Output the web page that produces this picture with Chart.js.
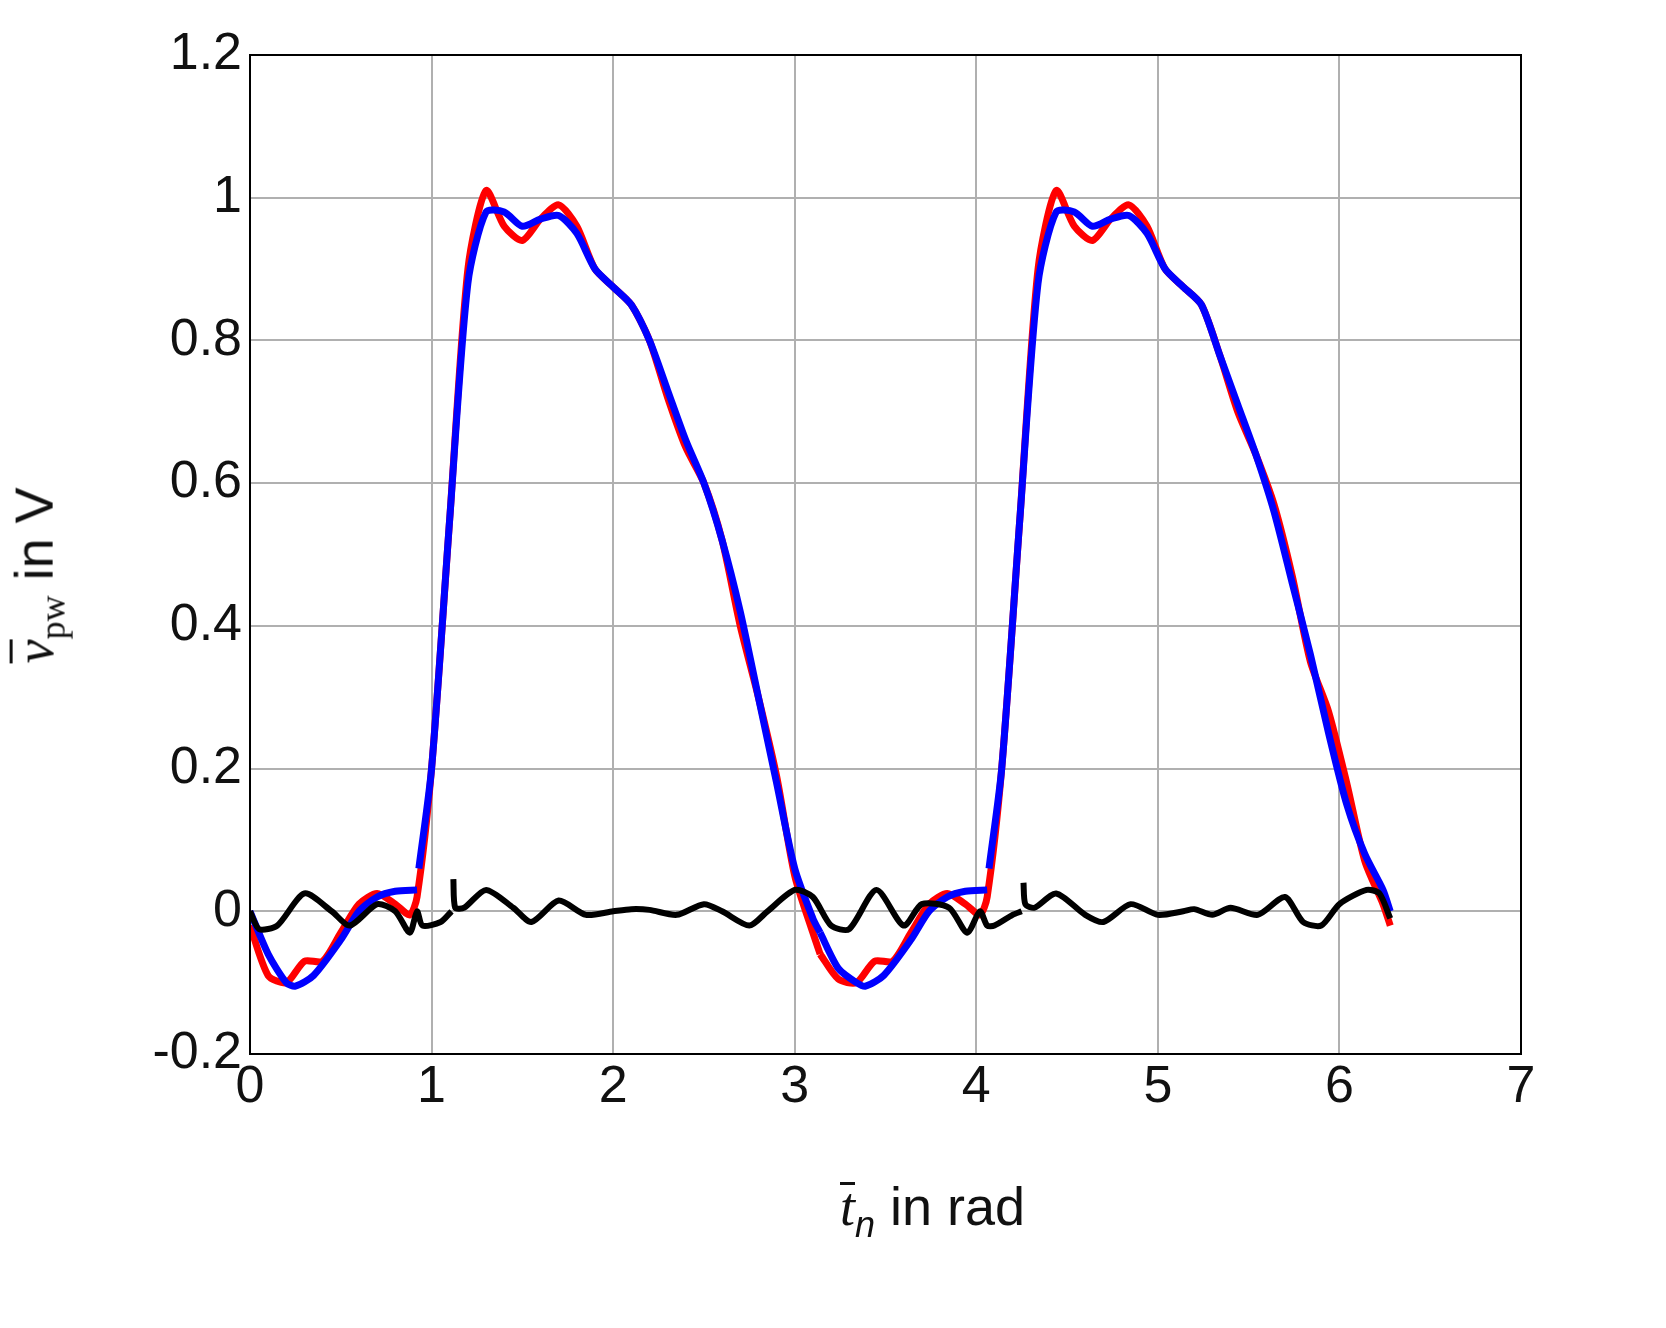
<!DOCTYPE html>
<html><head><meta charset="utf-8">
<script src="https://cdn.jsdelivr.net/npm/chart.js@4/dist/chart.umd.min.js"></script>
<style>
body{margin:0;background:#fff;font-family:"Liberation Sans",Arial,sans-serif}
#wrap{position:relative;width:1666px;height:1328px}
.lab{position:absolute;font-size:54px;color:#111;white-space:nowrap}
.ov{display:inline-block;border-top:3px solid #111;line-height:44px;font-family:"Liberation Serif",serif;font-style:italic}
</style></head><body>
<div id="wrap"><canvas id="chart1" width="1666" height="1328"></canvas>
<div class="lab" style="left:840px;top:1175px"><span class="ov">t</span><sub style="font-size:36px;font-style:italic">n</sub> in rad</div>
<div class="lab" style="left:-50px;top:540px;transform:rotate(-90deg);transform-origin:center"><span class="ov">v</span><sub style="font-size:36px;font-family:'Liberation Serif',serif">pw</sub> in V</div>
</div>
<script>
"use strict"

const redX1 = [0,0.1,0.2,0.3,0.4,0.5,0.6,0.7,0.8,0.88,0.92,1.0,1.1,1.2,1.3,1.4,1.5,1.6,1.7,1.8,1.9,2.0,2.1,2.2,2.3,2.4,2.5,2.6,2.7,2.8,2.9,3.0,3.1,3.14]
const redY1 = [-0.02,-0.09,-0.1,-0.07,-0.07,-0.03,0.01,0.025,0.01,-0.005,0.02,0.2,0.55,0.9,1.01,0.96,0.94,0.97,0.99,0.96,0.9,0.875,0.85,0.8,0.72,0.65,0.6,0.52,0.4,0.3,0.19,0.05,-0.03,-0.06]
const redX2 = [3.14,3.24,3.34,3.44,3.54,3.64,3.74,3.84,3.94,4.02,4.06,4.14,4.24,4.34,4.44,4.54,4.64,4.74,4.84,4.94,5.04,5.14,5.24,5.34,5.44,5.54,5.64,5.74,5.84,5.94,6.04,6.14,6.24,6.28]
const redY2 = [-0.06,-0.095,-0.1,-0.07,-0.07,-0.03,0.01,0.025,0.01,-0.005,0.02,0.2,0.55,0.9,1.01,0.96,0.94,0.97,0.99,0.96,0.9,0.875,0.85,0.78,0.7,0.64,0.57,0.47,0.35,0.28,0.18,0.07,0.01,-0.02]

const blueX1 = [0,0.1,0.2,0.25,0.35,0.5,0.6,0.7,0.8,0.92,null,0.93,1.0,1.1,1.2,1.3,1.4,1.5,1.6,1.7,1.8,1.9,2.0,2.1,2.2,2.3,2.4,2.5,2.6,2.7,2.8,2.9,3.0,3.1,3.14]
const blueY1 = [0,-0.06,-0.1,-0.105,-0.09,-0.04,0,0.02,0.028,0.03,null,0.06,0.2,0.55,0.88,0.98,0.98,0.96,0.97,0.975,0.95,0.9,0.875,0.85,0.8,0.73,0.66,0.6,0.52,0.42,0.3,0.18,0.06,-0.01,-0.03]
const blueX2 = [3.14,3.24,3.34,3.39,3.49,3.64,3.74,3.84,3.94,4.06,null,4.07,4.14,4.24,4.34,4.44,4.54,4.64,4.74,4.84,4.94,5.04,5.14,5.24,5.34,5.44,5.54,5.64,5.74,5.84,5.94,6.04,6.14,6.24,6.28]
const blueY2 = [-0.03,-0.08,-0.1,-0.105,-0.09,-0.04,0,0.02,0.028,0.03,null,0.06,0.2,0.55,0.88,0.98,0.98,0.96,0.97,0.975,0.95,0.9,0.875,0.85,0.78,0.71,0.64,0.56,0.46,0.36,0.25,0.15,0.08,0.03,0]

const blackX = [0,0.05,0.15,0.3,0.45,0.55,0.7,0.8,0.88,0.92,0.95,1.05,1.11,null,1.12,1.13,1.18,1.3,1.45,1.55,1.7,1.85,2.0,2.1,2.2,2.35,2.5,2.6,2.75,2.85,3.0,3.1,3.2,3.3,3.45,3.6,3.7,3.85,3.95,4.02,4.06,4.1,4.2,4.25,null,4.26,4.27,4.32,4.44,4.6,4.7,4.85,5.0,5.14,5.2,5.3,5.4,5.55,5.7,5.8,5.9,6.0,6.15,6.22,6.28]
const blackY = [0,-0.025,-0.02,0.025,0,-0.02,0.01,0,-0.03,0,-0.02,-0.015,0,null,0.045,0.005,0.005,0.03,0.005,-0.015,0.015,-0.005,0,0.003,0.002,-0.005,0.01,0,-0.02,0,0.03,0.02,-0.02,-0.025,0.03,-0.02,0.01,0.005,-0.03,0,-0.02,-0.02,-0.005,0,null,0.04,0.01,0.005,0.025,-0.005,-0.015,0.01,-0.005,0,0.003,-0.005,0.005,-0.005,0.02,-0.015,-0.02,0.01,0.03,0.025,-0.01]

const yTicks = [-0.2,0,0.2,0.4,0.6,0.8,1,1.2]

function pts(xs, ys){
    let out = []
    for (let i = 0; i < xs.length; i++) {
        out.push(xs[i] === null ? {x: xs[i-1] + 0.001, y: null} : {x: xs[i], y: ys[i]})
    }
    return out
}

const lineSet = (data, color, width) => ({
    data: data, borderColor: color, borderWidth: width, pointRadius: 0,
    showLine: true, tension: 0.25, spanGaps: false, fill: false
})

const boxPlugin = {
    id: 'box',
    afterDraw(chart){
        const a = chart.chartArea, c = chart.ctx
        c.save(); c.strokeStyle = '#000'; c.lineWidth = 2
        c.strokeRect(a.left, a.top, a.right - a.left, a.bottom - a.top)
        c.restore()
    }
}

const font = {family: '"Liberation Sans", Arial, sans-serif', size: 52}

// first dataset is drawn on top
new Chart(document.getElementById('chart1'), {
    type: 'scatter',
    data: {datasets: [
        lineSet(pts(blackX, blackY), '#000000', 6),
        lineSet(pts(blueX1, blueY1), '#0000ff', 7),
        lineSet(pts(blueX2, blueY2), '#0000ff', 7),
        lineSet(pts(redX1, redY1), '#ff0000', 7),
        lineSet(pts(redX2, redY2), '#ff0000', 7)
    ]},
    plugins: [boxPlugin],
    options: {
        responsive: false, animation: false,
        layout: {padding: {top: 55, right: 145, left: 0, bottom: 0}},
        plugins: {legend: {display: false}, tooltip: {enabled: false}},
        scales: {
            x: {
                type: 'linear', min: 0, max: 7,
                afterFit: s => { s.height = 274 },
                ticks: {stepSize: 1, color: '#111', font: font, padding: 2, maxRotation: 0},
                grid: {color: '#b0b0b0', lineWidth: 2, drawTicks: false},
                border: {color: '#000', width: 2}
            },
            y: {
                min: -0.2, max: 1.2,
                afterFit: s => { s.width = 250 },
                afterBuildTicks: s => { s.ticks = yTicks.map(v => ({value: v})) },
                ticks: {color: '#111', font: font, padding: 8, callback: v => String(Math.round(v * 10) / 10)},
                grid: {color: '#b0b0b0', lineWidth: 2, drawTicks: false},
                border: {color: '#000', width: 2}
            }
        }
    }
})
</script>
</body></html>
